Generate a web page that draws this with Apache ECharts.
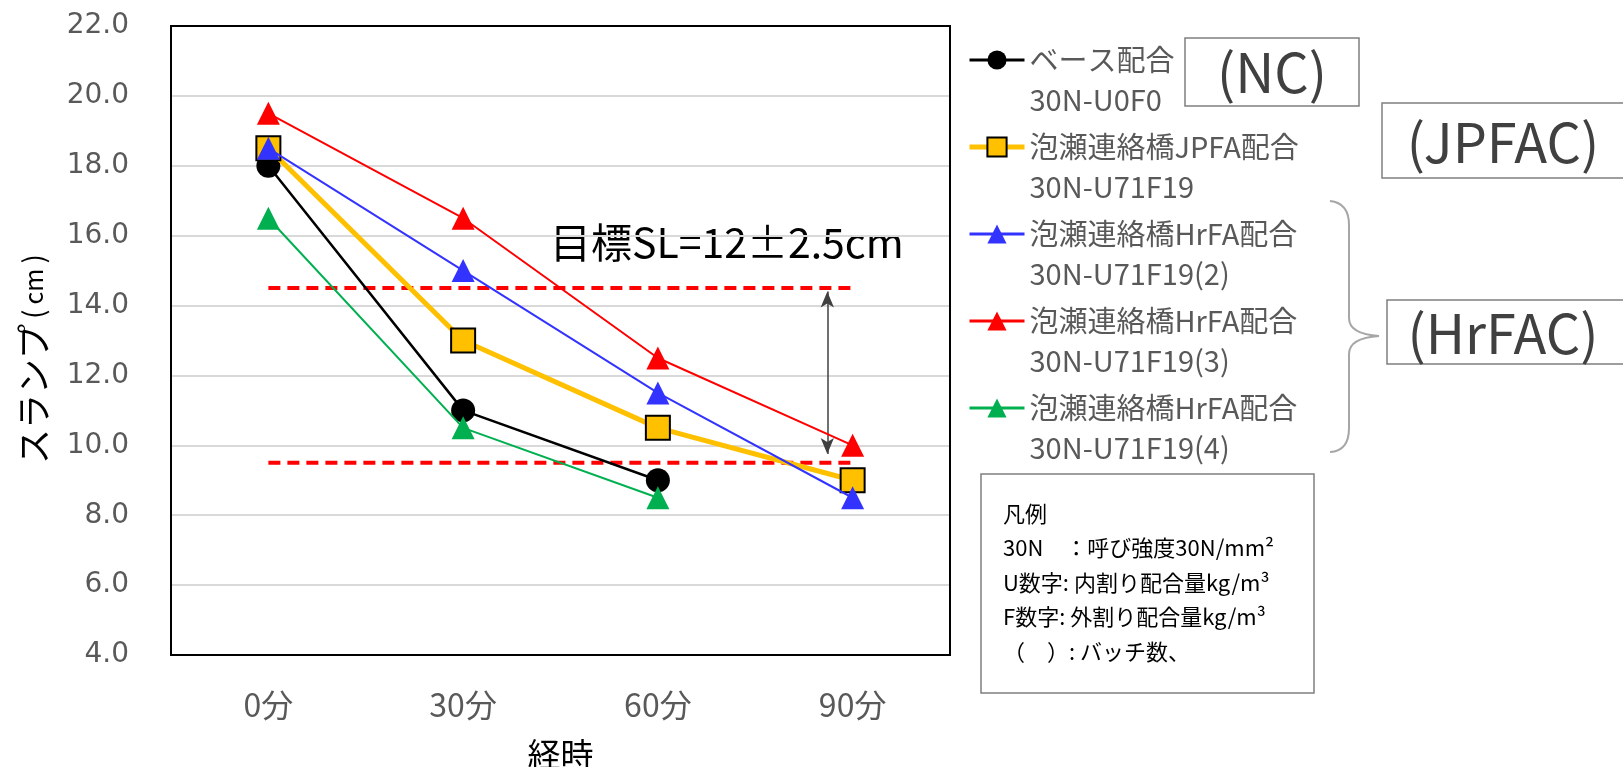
<!DOCTYPE html>
<html>
<head>
<meta charset="utf-8">
<script src="https://cdn.jsdelivr.net/npm/echarts@6/dist/echarts.min.js"></script>
<style>
  html, body { margin: 0; padding: 0; background: #fff; }
  #chart { width: 1623px; height: 767px; }
</style>
</head>
<body>
<div id="chart"></div>
<script>
// Elapsed-time categories and y ticks
const categories = ['0分', '30分', '60分', '90分'];
const yMin = 4, yMax = 22, yStep = 2;

// Slump (cm) per mix
const baseMix   = [18.0, 11.0, 9.0, null];
const jpfaMix   = [18.5, 13.0, 10.5, 9.0];
const hrfaMix2  = [18.5, 15.0, 11.5, 8.5];
const hrfaMix3  = [19.5, 16.5, 12.5, 10.0];
const hrfaMix4  = [16.5, 10.5, 8.5, null];

// Mix names and codes shown in the legend
const mixNames = ['ベース配合', '泡瀬連絡橋JPFA配合', '泡瀬連絡橋HrFA配合', '泡瀬連絡橋HrFA配合', '泡瀬連絡橋HrFA配合'];
const mixCodes = ['30N-U0F0', '30N-U71F19', '30N-U71F19(2)', '30N-U71F19(3)', '30N-U71F19(4)'];

// Target slump band 12 ± 2.5 cm
const targetUpper = [14.5, 14.5, 14.5, 14.5];
const targetLower = [9.5, 9.5, 9.5, 9.5];
// Double arrow spanning the band (x in category units)
const arrowX = 2.87;
const arrowTop = 14.4, arrowBottom = 9.75;

const noteLines = ['凡例', '30N\u3000：呼び強度30N/mm²', 'U数字: 内割り配合量kg/m³', 'F数字: 外割り配合量kg/m³', '（\u3000）: バッチ数、'];

const CJK = '"Noto Sans CJK JP", "Noto Sans", sans-serif';
const NUM = '"DejaVu Sans", "Noto Sans CJK JP", sans-serif';
const CAT = '"Noto Sans CJK JP", "Noto Sans", sans-serif';

const seriesDefs = [
  { data: baseMix,  color: '#000000', width: 2.5, symbol: 'circle',   size: 24, border: '#000000', legendWidth: 3 },
  { data: jpfaMix,  color: '#FFC000', width: 5,   symbol: 'rect',     size: 24, border: '#000000', legendWidth: 5 },
  { data: hrfaMix2, color: '#3333FF', width: 2,   symbol: 'triangle', size: 23, border: '#3333FF', legendWidth: 3 },
  { data: hrfaMix3, color: '#FF0000', width: 2,   symbol: 'triangle', size: 23, border: '#FF0000', legendWidth: 3 },
  { data: hrfaMix4, color: '#00B050', width: 2,   symbol: 'triangle', size: 23, border: '#00B050', legendWidth: 3 }
];
const seriesNames = mixNames.map((n, i) => n + '\n' + mixCodes[i]);

const chart = echarts.init(document.getElementById('chart'), null, { renderer: 'canvas' });

const bandStyle = { color: '#FF0000', width: 4, type: [12, 7] };

const series = [
  { type: 'line', data: targetUpper, symbol: 'none', lineStyle: bandStyle, silent: true, z: 1 },
  { type: 'line', data: targetLower, symbol: 'none', lineStyle: bandStyle, silent: true, z: 1 },
  {
    type: 'line', xAxisIndex: 1, data: [], silent: true,
    markLine: {
      silent: true, symbol: ['arrow', 'arrow'], symbolSize: [10, 16],
      label: { show: false },
      lineStyle: { color: '#404040', width: 1.5, type: 'solid' },
      data: [[{ coord: [arrowX, arrowTop] }, { coord: [arrowX, arrowBottom] }]]
    }
  }
].concat(seriesDefs.map((d, i) => ({
  name: seriesNames[i],
  type: 'line',
  data: d.data,
  symbol: d.symbol,
  symbolSize: d.size,
  z: 3 + i,
  connectNulls: false,
  lineStyle: { color: d.color, width: d.width },
  itemStyle: { color: d.color, borderColor: d.border, borderWidth: d.symbol === 'rect' ? 2 : 0 }
})));

const braceStyle = { fill: 'none', stroke: '#A6A6A6', lineWidth: 2 };
const tagFont = '54px ' + CJK;

const option = {
  animation: false,
  backgroundColor: '#ffffff',
  grid: {
    left: 171, top: 26, right: 673, bottom: 112, show: true, z: 2,
    outerBoundsMode: 'none', containLabel: false,
    borderColor: '#000000', borderWidth: 2, backgroundColor: 'transparent'
  },
  legend: {
    data: seriesNames.map((n, i) => ({ name: n, lineStyle: { width: seriesDefs[i].legendWidth } })),
    orient: 'vertical',
    left: 967, top: 0,
    padding: 0,
    itemWidth: 55, itemHeight: 24,
    itemGap: -33,
    selectedMode: false,
    formatter: name => '\n' + name,
    textStyle: { color: '#595959', fontSize: 29, fontFamily: CJK, lineHeight: 40 }
  },
  xAxis: [
    {
      type: 'category', data: categories, boundaryGap: true,
      axisLine: { show: false }, axisTick: { show: false },
      axisLabel: { color: '#595959', fontSize: 32, fontFamily: CAT, margin: 34 },
      name: '経時', nameLocation: 'middle', nameGap: 83,
      nameTextStyle: { color: '#000000', fontSize: 33, fontFamily: CJK }
    },
    { type: 'value', min: -0.5, max: 3.5, show: false }
  ],
  yAxis: {
    type: 'value', min: yMin, max: yMax, interval: yStep,
    axisLine: { show: false }, axisTick: { show: false },
    axisLabel: { color: '#595959', fontSize: 28, fontFamily: NUM, margin: 42, formatter: v => v.toFixed(1) },
    splitLine: { lineStyle: { color: '#D9D9D9', width: 2 } },
    name: '{a|スランプ}{p|(}{b|cm}{p|)}', nameLocation: 'middle', nameGap: 120, nameRotate: 90,
    nameTextStyle: {
      padding: [0, 32, 0, 0],
      rich: {
        a: { fontSize: 35, fontFamily: CJK, color: '#000000' },
        p: { fontSize: 28, fontFamily: CJK, color: '#000000', padding: [0, 5, 0, 5] },
        b: { fontSize: 25, fontFamily: CJK, color: '#000000' }
      }
    }
  },
  graphic: [
    { type: 'text', left: 550, top: 222,
      style: { text: '目標SL=12±2.5cm', fill: '#000000', font: '41px ' + CJK } },
    // Group labels
    { type: 'rect', shape: { x: 1185, y: 38, width: 174, height: 68 }, style: { fill: '#fff', stroke: '#7F7F7F', lineWidth: 1.5 } },
    { type: 'text', x: 1272, y: 72, style: { text: '(NC)', fill: '#404040', font: tagFont, textAlign: 'center', textVerticalAlign: 'middle' } },
    { type: 'rect', shape: { x: 1382, y: 103, width: 260, height: 75 }, style: { fill: '#fff', stroke: '#7F7F7F', lineWidth: 1.5 } },
    { type: 'text', x: 1503, y: 142, style: { text: '(JPFAC)', fill: '#404040', font: tagFont, textAlign: 'center', textVerticalAlign: 'middle' } },
    { type: 'rect', shape: { x: 1387, y: 300, width: 260, height: 64 }, style: { fill: '#fff', stroke: '#7F7F7F', lineWidth: 1.5 } },
    { type: 'text', x: 1503, y: 333, style: { text: '(HrFAC)', fill: '#404040', font: tagFont, textAlign: 'center', textVerticalAlign: 'middle' } },
    // Brace grouping the HrFA mixes
    { type: 'bezierCurve', shape: { x1: 1330, y1: 201, cpx1: 1349, cpy1: 203, x2: 1349, y2: 225 }, style: braceStyle },
    { type: 'line', shape: { x1: 1349, y1: 225, x2: 1349, y2: 318 }, style: braceStyle },
    { type: 'bezierCurve', shape: { x1: 1349, y1: 318, cpx1: 1349, cpy1: 334, x2: 1379, y2: 336 }, style: braceStyle },
    { type: 'bezierCurve', shape: { x1: 1379, y1: 336, cpx1: 1349, cpy1: 338, x2: 1349, y2: 354 }, style: braceStyle },
    { type: 'line', shape: { x1: 1349, y1: 354, x2: 1349, y2: 428 }, style: braceStyle },
    { type: 'bezierCurve', shape: { x1: 1349, y1: 428, cpx1: 1349, cpy1: 451, x2: 1330, y2: 452 }, style: braceStyle },
    // Notes box
    { type: 'rect', shape: { x: 981, y: 474, width: 333, height: 219 }, style: { fill: '#fff', stroke: '#7F7F7F', lineWidth: 1.5 } },
    { type: 'text', left: 1003, top: 496,
      style: { text: noteLines.join('\n'), fill: '#000000', font: '22px ' + CJK, lineHeight: 34.5 } }
  ],
  series: series
};

chart.setOption(option);
</script>
</body>
</html>
